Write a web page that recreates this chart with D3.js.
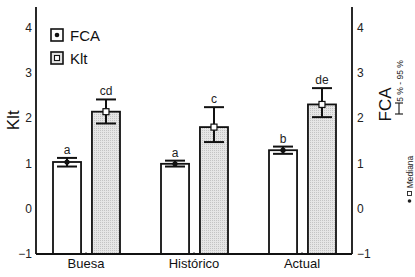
<!DOCTYPE html>
<html>
<head>
<meta charset="utf-8">
<script src="https://cdn.jsdelivr.net/npm/d3@7"></script>
<style>
  body { margin: 0; background: #fff; }
  svg { display: block; font-family: "Liberation Sans", Arial, sans-serif; }
</style>
</head>
<body>
<svg id="chart" width="415" height="277"></svg>
<script>
// Daten
const categories = ["Buesa", "Histórico", "Actual"];
const series = ["FCA", "Klt"];

const fcaValues = [1.03, 0.99, 1.29];
const fcaLow = [0.93, 0.93, 1.21];
const fcaHigh = [1.12, 1.06, 1.37];
const fcaLetters = ["a", "a", "b"];

const kltValues = [2.14, 1.80, 2.30];
const kltLow = [1.88, 1.47, 2.02];
const kltHigh = [2.41, 2.24, 2.66];
const kltLetters = ["cd", "c", "de"];

const yTicks = [-1, 0, 1, 2, 3, 4];

const data = [];
categories.forEach((cat, i) => {
  data.push({ cat, key: "FCA", value: fcaValues[i], low: fcaLow[i], high: fcaHigh[i], letter: fcaLetters[i] });
  data.push({ cat, key: "Klt", value: kltValues[i], low: kltLow[i], high: kltHigh[i], letter: kltLetters[i] });
});

const svg = d3.select("#chart");

// Layout
const plotLeft = 36, plotRight = 352, plotTop = 7, plotBottom = 254;

const y = d3.scaleLinear().domain([-1, 4.45]).range([plotBottom, plotTop]);

const x0 = d3.scaleBand()
  .domain(categories)
  .range([plotLeft - 4, plotRight + 4])
  .paddingInner(0)
  .paddingOuter(0);

const x1 = d3.scaleBand()
  .domain(series)
  .range([21, 88])
  .paddingInner(0.28)
  .paddingOuter(0);

// Muster für Klt-Balken (feines Raster)
const defs = svg.append("defs");
const pat = defs.append("pattern")
  .attr("id", "mesh")
  .attr("width", 2)
  .attr("height", 2)
  .attr("patternUnits", "userSpaceOnUse");
pat.append("rect").attr("width", 2).attr("height", 2).attr("fill", "#e6e6e6");
pat.append("rect").attr("width", 1).attr("height", 1).attr("fill", "#c4c4c4");

const fill = d => d.key === "FCA" ? "#fff" : "url(#mesh)";

// Balken
const groups = svg.append("g")
  .selectAll("g")
  .data(data)
  .join("g")
    .attr("transform", d => `translate(${x0(d.cat)},0)`);

groups.append("rect")
  .attr("x", d => x1(d.key))
  .attr("y", d => y(d.value))
  .attr("width", x1.bandwidth())
  .attr("height", d => y(-1) - y(d.value))
  .attr("fill", fill)
  .attr("stroke", "#111")
  .attr("stroke-width", 1.8);

// Fehlerbalken 5 % - 95 %
const cx = d => x1(d.key) + x1.bandwidth() / 2;
const capW = 10;

groups.append("line")
  .attr("x1", cx).attr("x2", cx)
  .attr("y1", d => y(d.low)).attr("y2", d => y(d.high))
  .attr("stroke", "#111").attr("stroke-width", 2);

groups.append("line")
  .attr("x1", d => cx(d) - capW).attr("x2", d => cx(d) + capW)
  .attr("y1", d => y(d.high)).attr("y2", d => y(d.high))
  .attr("stroke", "#111").attr("stroke-width", 2);

groups.append("line")
  .attr("x1", d => cx(d) - capW).attr("x2", d => cx(d) + capW)
  .attr("y1", d => y(d.low)).attr("y2", d => y(d.low))
  .attr("stroke", "#111").attr("stroke-width", 2);

// Median
groups.filter(d => d.key === "FCA").append("circle")
  .attr("cx", cx)
  .attr("cy", d => y(d.value))
  .attr("r", 2.6)
  .attr("fill", "#111");

groups.filter(d => d.key === "Klt").append("rect")
  .attr("x", d => cx(d) - 3)
  .attr("y", d => y(d.value) - 3)
  .attr("width", 6)
  .attr("height", 6)
  .attr("fill", "#fff")
  .attr("stroke", "#111")
  .attr("stroke-width", 1.2);

// Buchstaben
groups.append("text")
  .attr("x", cx)
  .attr("y", d => y(d.high) - 4)
  .attr("text-anchor", "middle")
  .attr("font-size", "12px")
  .attr("fill", "#222")
  .text(d => d.letter);

// Achsen
const fmt = d3.format("d");

const yLeft = svg.append("g")
  .attr("transform", `translate(${plotLeft},0)`)
  .call(d3.axisLeft(y).tickValues(yTicks).tickFormat(fmt).tickSize(0).tickPadding(4));
yLeft.select(".domain").remove();

const yRight = svg.append("g")
  .attr("transform", `translate(${plotRight},0)`)
  .call(d3.axisRight(y).tickValues(yTicks).tickFormat(fmt).tickSize(0).tickPadding(5));
yRight.select(".domain").remove();

[yLeft, yRight].forEach(a => a.selectAll("text")
  .attr("font-size", "12px")
  .attr("fill", "#222")
  .attr("font-family", "Liberation Sans, Arial, sans-serif"));

const xAxis = svg.append("g")
  .attr("transform", `translate(0,${plotBottom})`)
  .call(d3.axisBottom(x0).tickSize(-2).tickPadding(5));
xAxis.select(".domain").remove();
xAxis.selectAll("text")
  .attr("font-size", "13px")
  .attr("fill", "#111")
  .attr("font-family", "Liberation Sans, Arial, sans-serif");
xAxis.selectAll("line").attr("stroke", "#555");

// Rahmenlinien
svg.append("line")
  .attr("x1", plotLeft).attr("x2", plotLeft)
  .attr("y1", y.range()[1]).attr("y2", y.range()[0])
  .attr("stroke", "#111").attr("stroke-width", 1.8);
svg.append("line")
  .attr("x1", plotRight).attr("x2", plotRight)
  .attr("y1", y.range()[1]).attr("y2", y.range()[0])
  .attr("stroke", "#111").attr("stroke-width", 1.8);
svg.append("line")
  .attr("x1", plotLeft).attr("x2", plotRight)
  .attr("y1", plotBottom).attr("y2", plotBottom)
  .attr("stroke", "#111").attr("stroke-width", 1.8);

// Achsentitel
svg.append("text")
  .attr("transform", `translate(19,${y(1.95)}) rotate(-90)`)
  .attr("text-anchor", "middle")
  .attr("font-size", "17px")
  .attr("fill", "#111")
  .text("Klt");

svg.append("text")
  .attr("transform", `translate(391,${y(2.3)}) rotate(-90)`)
  .attr("text-anchor", "middle")
  .attr("font-size", "17px")
  .attr("fill", "#111")
  .text("FCA");

// Hinweis rechts: 5 % - 95 % und Median
svg.append("text")
  .attr("transform", "translate(403,81) rotate(-90)")
  .attr("text-anchor", "middle")
  .attr("font-size", "8.5px")
  .attr("fill", "#222")
  .text("5 % - 95 %");

const whisk = svg.append("g").attr("stroke", "#222").attr("stroke-width", 1.2);
whisk.append("line").attr("x1", 399).attr("x2", 399).attr("y1", 103).attr("y2", 114);
whisk.append("line").attr("x1", 395).attr("x2", 403).attr("y1", 103).attr("y2", 103);
whisk.append("line").attr("x1", 395).attr("x2", 403).attr("y1", 114).attr("y2", 114);

svg.append("text")
  .attr("transform", "translate(413,172) rotate(-90)")
  .attr("text-anchor", "middle")
  .attr("font-size", "8.5px")
  .attr("fill", "#222")
  .text("Mediana");

svg.append("rect")
  .attr("x", 407.5).attr("y", 191.5).attr("width", 4).attr("height", 4)
  .attr("fill", "#fff").attr("stroke", "#222").attr("stroke-width", 0.9);
svg.append("circle")
  .attr("cx", 409.5).attr("cy", 201).attr("r", 1.8).attr("fill", "#222");

// Legende
const legendData = [
  { key: "FCA", label: "FCA" },
  { key: "Klt", label: "Klt" }
];

const lg = svg.append("g")
  .attr("transform", "translate(51,29)")
  .selectAll("g")
  .data(legendData)
  .join("g")
    .attr("transform", (d, i) => `translate(0,${i * 23})`);

lg.append("rect")
  .attr("width", 12).attr("height", 12)
  .attr("fill", d => d.key === "FCA" ? "#fff" : "#e3e3e3")
  .attr("stroke", "#111").attr("stroke-width", 1.6);

lg.filter(d => d.key === "FCA").append("circle")
  .attr("cx", 6).attr("cy", 6).attr("r", 2.3).attr("fill", "#111");

lg.filter(d => d.key === "Klt").append("rect")
  .attr("x", 3.5).attr("y", 3.5).attr("width", 5).attr("height", 5)
  .attr("fill", "#fff").attr("stroke", "#111").attr("stroke-width", 1.1);

lg.append("text")
  .attr("x", 19)
  .attr("y", 11.5)
  .attr("font-size", "15px")
  .attr("fill", "#111")
  .text(d => d.label);
</script>
</body>
</html>
